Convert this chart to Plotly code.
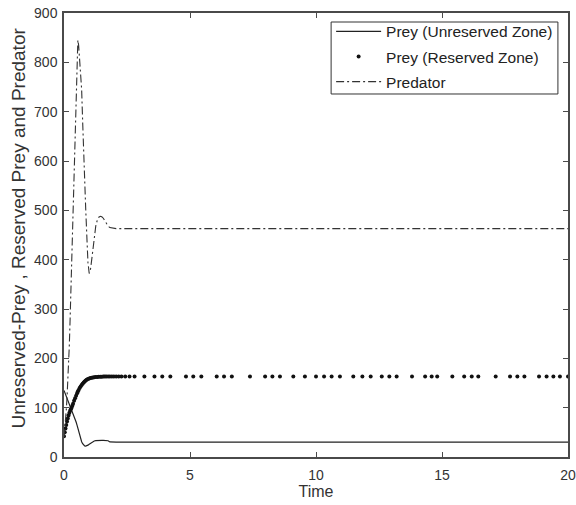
import plotly.graph_objects as go

# Solver output times
time = [
    0.00, 0.03, 0.06, 0.09, 0.12, 0.15, 0.18, 0.21, 0.24, 0.27,
    0.30, 0.33, 0.36, 0.40, 0.44, 0.48, 0.52, 0.55, 0.58, 0.62,
    0.66, 0.70, 0.74, 0.78, 0.82, 0.86, 0.90, 0.95, 1.00, 1.05,
    1.10, 1.15, 1.20, 1.26, 1.32, 1.38, 1.44, 1.50, 1.56, 1.62,
    1.68, 1.75, 1.82, 1.90, 1.98, 2.07, 2.17, 2.28, 2.43, 2.60,
    2.80, 3.19, 3.59, 3.90, 4.22, 4.84, 5.13, 5.45, 6.06, 6.35,
    6.66, 7.38, 7.98, 8.27, 8.57, 9.10, 9.56, 10.00, 10.32, 10.62,
    10.95, 11.48, 11.84, 12.17, 12.61, 12.91, 13.20, 13.81, 14.33, 14.59,
    14.81, 15.41, 15.88, 16.18, 16.44, 17.13, 17.70, 17.99, 18.27, 18.85,
    19.15, 19.42, 19.68, 20.00,
]

prey_unreserved = [
    135, 131, 127, 123, 119, 115, 111, 107, 104, 101,
    98, 94, 90, 84, 78, 71, 64, 58, 52, 44,
    37, 31, 27, 24, 22.5, 22, 22.5, 24, 26, 28,
    30, 31.5, 32.5, 33, 33.5, 33.5, 33.5, 33.5, 33.5, 33.5,
    33.5, 33, 30.5, 30, 30, 30, 30, 30, 30, 30,
    30, 30, 30, 30, 30, 30, 30, 30, 30, 30,
    30, 30, 30, 30, 30, 30, 30, 30, 30, 30,
    30, 30, 30, 30, 30, 30, 30, 30, 30, 30,
    30, 30, 30, 30, 30, 30, 30, 30, 30, 30,
    30, 30, 30, 30,
]

prey_reserved = [
    42, 50, 58, 65, 72, 78, 84, 89, 93, 97,
    100, 104, 108, 114, 119, 124, 129, 133, 136, 140,
    143, 146, 148.5, 151, 153, 155, 156.5, 158, 159, 160,
    160.5, 161, 161.5, 162, 162, 162.5, 162.5, 162.5, 163, 163,
    163, 163, 163, 163, 163, 163, 163, 163, 163, 163,
    163, 163, 163, 163, 163, 163, 163, 163, 163, 163,
    163, 163, 163, 163, 163, 163, 163, 163, 163, 163,
    163, 163, 163, 163, 163, 163, 163, 163, 163, 163,
    163, 163, 163, 163, 163, 163, 163, 163, 163, 163,
    163, 163, 163, 163,
]

predator = [
    40, 55, 75, 95, 120, 150, 185, 225, 275, 330,
    390, 440, 490, 560, 630, 710, 790, 845, 835, 805,
    780, 745, 680, 610, 560, 505, 455, 395, 372, 380,
    400, 425, 448, 468, 480, 486, 488, 487, 484, 478,
    472, 468, 465, 464, 463, 463, 463, 463, 463, 463,
    463, 463, 463, 463, 463, 463, 463, 463, 463, 463,
    463, 463, 463, 463, 463, 463, 463, 463, 463, 463,
    463, 463, 463, 463, 463, 463, 463, 463, 463, 463,
    463, 463, 463, 463, 463, 463, 463, 463, 463, 463,
    463, 463, 463, 463,
]

x_ticks = [0, 5, 10, 15, 20]
y_ticks = [0, 100, 200, 300, 400, 500, 600, 700, 800, 900]

FONT = "Liberation Sans, Arial, sans-serif"
AXIS_COLOR = "#4a4a4a"
TEXT_COLOR = "#333333"

fig = go.Figure()

fig.add_trace(go.Scatter(
    x=time, y=prey_unreserved, mode="lines",
    name="Prey (Unreserved Zone)", legendgroup="a",
    line=dict(color="#222222", width=1.2),
))
fig.add_trace(go.Scatter(
    x=time, y=prey_reserved, mode="markers",
    name="Prey (Reserved Zone)", legendgroup="b",
    marker=dict(color="#111111", size=4, symbol="circle"),
))
fig.add_trace(go.Scatter(
    x=time, y=predator, mode="lines",
    name="Predator", legendgroup="c",
    line=dict(color="#333333", width=1.1, dash="8px,3px,2px,3px"),
))

axis_common = dict(
    showgrid=False, zeroline=False,
    showline=True, linecolor=AXIS_COLOR, linewidth=1.5,
    mirror="ticks", ticks="inside", ticklen=5,
    tickcolor=AXIS_COLOR, tickwidth=1,
    tickfont=dict(family=FONT, size=14, color=TEXT_COLOR),
    automargin=False, ticklabeloverflow="allow",
)

fig.update_xaxes(
    range=[0, 20], tickvals=x_ticks, ticklabelstandoff=4,
    title=dict(text="Time", font=dict(family=FONT, size=16, color=TEXT_COLOR), standoff=2),
    **axis_common,
)
fig.update_yaxes(
    range=[0, 900], tickvals=y_ticks, ticklabelstandoff=2,
    **axis_common,
)

# Vertical axis caption
fig.add_annotation(
    text="Unreserved-Prey , Reserved Prey and Predator",
    xref="paper", yref="paper", x=-0.0913, y=0.517,
    xanchor="center", yanchor="middle", textangle=-90, showarrow=False,
    font=dict(family=FONT, size=19, color=TEXT_COLOR),
)

# Legend frame
fig.add_shape(
    type="rect", xref="paper", yref="paper",
    x0=0.530, x1=0.980, y0=0.8176, y1=0.9797,
    line=dict(color="#333333", width=1), fillcolor="white", layer="above",
)

fig.update_layout(
    width=576, height=505,
    margin=dict(l=64, r=8, t=13, b=48),
    paper_bgcolor="white", plot_bgcolor="white",
    font=dict(family=FONT, size=14, color=TEXT_COLOR),
    legend=dict(
        x=0.530, y=0.996, xanchor="left", yanchor="top",
        bgcolor="rgba(0,0,0,0)", borderwidth=0,
        font=dict(family=FONT, size=15.5, color="#222222"),
        tracegroupgap=2, itemwidth=45,
    ),
)

fig.write_html("out.html")
